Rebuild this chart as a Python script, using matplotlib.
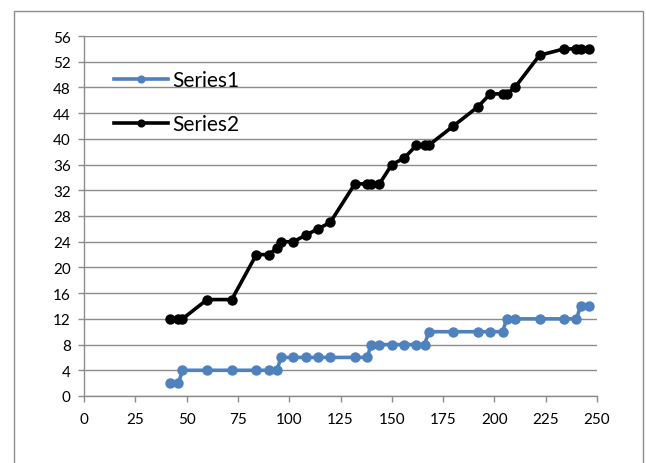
import matplotlib
matplotlib.use("Agg")
import matplotlib.pyplot as plt
from matplotlib.patches import Rectangle

# data
x_vals = [42, 46, 48, 60, 72, 84, 90, 94, 96, 102, 108, 114, 120, 132, 138, 140,
          144, 150, 156, 162, 166, 168, 180, 192, 198, 204, 206, 210, 222, 234,
          240, 242, 246]
series1 = [2, 2, 4, 4, 4, 4, 4, 4, 6, 6, 6, 6, 6, 6, 6, 8,
           8, 8, 8, 8, 8, 10, 10, 10, 10, 10, 12, 12, 12, 12,
           12, 14, 14]
series2 = [12, 12, 12, 15, 15, 22, 22, 23, 24, 24, 25, 26, 27, 33, 33, 33,
           33, 36, 37, 39, 39, 39, 42, 45, 47, 47, 47, 48, 53, 54,
           54, 54, 54]
x_ticks = list(range(0, 251, 25))
y_ticks = list(range(0, 57, 4))

plt.rcParams['font.family'] = ['Lato', 'DejaVu Sans']

fig = plt.figure(figsize=(6.46, 4.64), dpi=100)
ax = fig.add_axes([84 / 646, 1 - 397 / 464, (597 - 84) / 646, (397 - 37) / 464])

# outer chart frame
fig.patches.append(Rectangle((14 / 646, -0.01), (643 - 14) / 646, 1.01 - 12 / 464,
                             transform=fig.transFigure, fill=False,
                             edgecolor='#8c8c8c', linewidth=1.0))

ax.plot(x_vals, series1, color='#4F81BD', linewidth=2.6, marker='o',
        markersize=6.5, label='Series1', zorder=3)
ax.plot(x_vals, series2, color='black', linewidth=2.6, marker='o',
        markersize=6.5, label='Series2', zorder=3)

ax.set_xlim(0, 250)
ax.set_ylim(0, 56)
ax.set_xticks(x_ticks)
ax.set_yticks(y_ticks)
ax.grid(axis='y', color='#8c8c8c', linewidth=1.0)
ax.set_axisbelow(True)

for s in ['top', 'right']:
    ax.spines[s].set_visible(False)
for s in ['left', 'bottom']:
    ax.spines[s].set_color('#8c8c8c')
    ax.spines[s].set_linewidth(1.0)
ax.tick_params(axis='both', colors='#8c8c8c', labelcolor='black', labelsize=11,
               length=4.5, width=1.0)
ax.tick_params(axis='x', pad=7)
ax.tick_params(axis='y', pad=5)

ax.legend(loc='upper left', bbox_to_anchor=(0.058, 0.905), frameon=False,
          fontsize=15, handlelength=2.6, handletextpad=0.2, labelspacing=1.15,
          markerscale=0.75, borderaxespad=0, borderpad=0)

fig.savefig('out.png', dpi=100)
